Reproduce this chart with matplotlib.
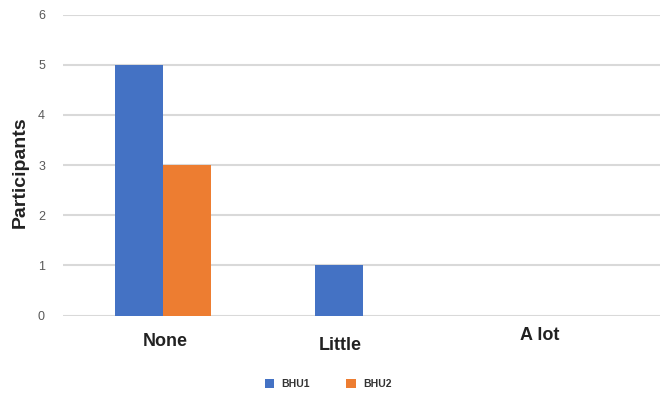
import matplotlib
matplotlib.use("Agg")
import matplotlib.pyplot as plt
import numpy as np
from matplotlib.patches import Patch

plt.rcParams['font.family'] = ['Liberation Sans', 'DejaVu Sans']

categories = ["None", "Little", "A lot"]
series_names = ["BHU1", "BHU2"]
bhu1 = [5, 1, 0]
bhu2 = [3, 0, 0]
y_ticks = [0, 1, 2, 3, 4, 5, 6]

colors = ["#4472C4", "#ED7D31"]
# per-label pixel offsets of the category labels (x, y) from the axis baseline
label_offsets = [(2, -26), (-23, -30), (-23, -20)]

fig = plt.figure(figsize=(6.6, 3.93), dpi=100)
ax = fig.add_axes([63 / 660, 1 - 315.5 / 393, 600 / 660, 301 / 393])

x = np.arange(len(categories))
w = 0.24
ax.bar(x - w / 2, bhu1, width=w, color=colors[0], zorder=3)
ax.bar(x + w / 2, bhu2, width=w, color=colors[1], zorder=3)

ax.set_xlim(-0.5, 2.5)
ax.set_ylim(0, 6)
ax.set_yticks(y_ticks)
ax.yaxis.grid(True, color="#d9d9d9", linewidth=1.5, zorder=0)
ax.set_axisbelow(True)
for s in ax.spines.values():
    s.set_visible(False)
ax.tick_params(axis="y", length=0, pad=13, labelsize=9, labelcolor="#595959")
ax.set_xticks([])

for i, (cat, (dx, dy)) in enumerate(zip(categories, label_offsets)):
    ax.annotate(cat, xy=(i, 0), xycoords=("data", "axes fraction"),
                xytext=(dx, dy), textcoords="offset pixels",
                ha="center", va="center", fontsize=13, fontweight="bold",
                color="#222222", annotation_clip=False)

fig.text(20 / 660, 1 - 172 / 393, "Participants", rotation=90, ha="center",
         va="center", fontsize=14, fontweight="bold", color="#222222")

handles = [Patch(facecolor=c, edgecolor="none") for c in colors]
fig.legend(handles, series_names, loc="center", ncol=2,
           bbox_to_anchor=(328 / 660, 1 - 384 / 393), frameon=False,
           prop={"size": 7.5, "weight": "bold"}, labelcolor="#333333",
           handlelength=0.9, handleheight=0.9, handletextpad=0.7,
           columnspacing=3.5)

fig.savefig("out.png", dpi=100, facecolor="white")
